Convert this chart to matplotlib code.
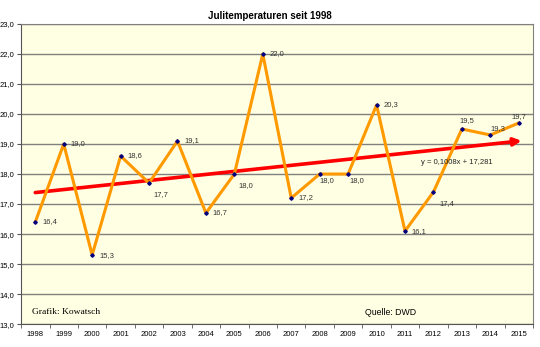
import numpy as np
import matplotlib.pyplot as plt

# July temperatures (DWD)
years = [str(y) for y in range(1998, 2016)]
temps = [16.4, 19.0, 15.3, 18.6, 17.7, 19.1, 16.7, 18.0, 22.0, 17.2,
         18.0, 18.0, 20.3, 16.1, 17.4, 19.5, 19.3, 19.7]

plt.rcParams['font.family'] = ['Liberation Sans', 'DejaVu Sans']

fig = plt.figure(figsize=(5.4, 3.47), dpi=100)
ax = fig.add_axes([0.039, 0.066, 0.948, 0.865])
ax.set_facecolor('#FFFFE3')

x = np.arange(len(temps))
ax.plot(x, temps, color='#FF9900', lw=2.2, zorder=3)
ax.plot(x, temps, ls='none', marker='D', ms=1.8, color='#000080', zorder=4)

# label offsets in points (dx, dy)
offsets = {4: (3, -8), 7: (3, -8), 10: (0, -5), 11: (1, -5), 14: (4, -8),
           12: (5, 0), 15: (-2, 6), 16: (0, 5), 17: (-5, 5)}
for i, v in enumerate(temps):
    dx, dy = offsets.get(i, (5, 0))
    ax.annotate(f'{v:.1f}'.replace('.', ','), (x[i], v), xytext=(dx, dy),
                textcoords='offset points', fontsize=5.5, color='#333333',
                va='center', ha='left', zorder=5)

# linear trend (x = 1..18 like Excel)
m, b = np.polyfit(x + 1, temps, 1)
ax.annotate('', xy=(x[-1] + 0.1, m * (x[-1] + 1.1) + b), xytext=(x[0], m * 1 + b),
            arrowprops=dict(arrowstyle='-|>', color='#FF0000', lw=2.6,
                            mutation_scale=11, shrinkA=0, shrinkB=0), zorder=2)
ax.text(14.83, 18.4, f'y = {m:.4f}x + {b:.3f}'.replace('.', ','), fontsize=5.5,
        color='#222222', ha='center', va='center')

ax.set_xlim(-0.5, len(temps) - 0.5)
ax.set_ylim(13, 23)
ax.set_yticks(np.arange(13, 23.1, 1))
ax.set_yticklabels([f'{t:.1f}'.replace('.', ',') for t in np.arange(13, 23.1, 1)])
ax.set_xticks(x)
ax.set_xticklabels(years)
ax.set_xticks(np.arange(-0.5, len(temps)), minor=True)
ax.tick_params(axis='x', which='major', length=0, labelsize=5.5, pad=5)
ax.tick_params(axis='x', which='minor', length=3, color='#555555')
ax.tick_params(axis='y', length=3, labelsize=5.5, pad=2, color='#555555')
ax.grid(axis='y', color='#808080', lw=1)
for s in ax.spines.values():
    s.set_color('#808080')
ax.spines['left'].set_color('#555555')
ax.spines['bottom'].set_color('#555555')

fig.text(0.5, 0.955, 'Julitemperaturen seit 1998', ha='center', va='center',
         fontsize=7, fontweight='bold')
ax.text(-0.12, 13.35, 'Grafik: Kowatsch', family='Liberation Serif', fontsize=6.8)
ax.text(12.5, 13.3, 'Quelle: DWD', fontsize=6.3, ha='center')

fig.savefig('out.png', dpi=100)
